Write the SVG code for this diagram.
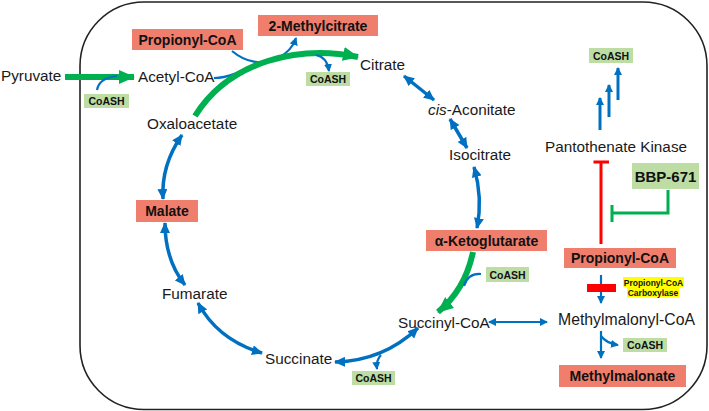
<svg xmlns="http://www.w3.org/2000/svg" width="709" height="411" viewBox="0 0 709 411">
<style>
.t{font-family:"Liberation Sans",Arial,sans-serif;font-size:15.3px;fill:#1a1a1a}
.b{font-family:"Liberation Sans",Arial,sans-serif;font-size:14px;font-weight:bold;fill:#111;text-anchor:middle}
.s{font-family:"Liberation Sans",Arial,sans-serif;font-size:10.5px;font-weight:bold;fill:#111;text-anchor:middle}
.y{font-family:"Liberation Sans",Arial,sans-serif;font-size:8.5px;font-weight:bold;fill:#111;text-anchor:middle}
.red{fill:#F07E6C}
.lg{fill:#BDDDA5}
.bl{fill:none;stroke:#0070C0;stroke-width:3.5}
.bs{fill:none;stroke:#0070C0;stroke-width:2.2}
.gr{fill:none;stroke:#00B050;stroke-width:6}
.inh{fill:none;stroke:#FF0000;stroke-width:3}
.ing{fill:none;stroke:#00B050;stroke-width:3}
</style>
<defs>
<marker id="hb" viewBox="0 0 11 10" refX="10" refY="5" markerWidth="11" markerHeight="10" markerUnits="userSpaceOnUse" orient="auto-start-reverse"><path d="M0,0 L11,5 L0,10 z" fill="#0070C0"/></marker>
<marker id="hs" viewBox="0 0 8 8" refX="7" refY="4" markerWidth="8" markerHeight="8" markerUnits="userSpaceOnUse" orient="auto-start-reverse"><path d="M0,0 L8,4 L0,8 z" fill="#0070C0"/></marker>
<marker id="hg" viewBox="0 0 16 14" refX="15" refY="7" markerWidth="16" markerHeight="14" markerUnits="userSpaceOnUse" orient="auto"><path d="M0,0 L16,7 L0,14 z" fill="#00B050"/></marker>
</defs>
<rect width="709" height="411" fill="#fff"/>
<rect x="80" y="2" width="627" height="407.5" rx="64" ry="64" fill="none" stroke="#222" stroke-width="1.6"/>

<g id="connectors">
  <path class="gr" d="M65,77 L134,77" marker-end="url(#hg)"/>
  <path class="bs" d="M97,90 Q99,78 117,76"/>
  <path class="bs" d="M232,51 C245,62 262,66 278,58 C288,53 293,47 296,38" marker-end="url(#hs)"/>
  <path class="bs" d="M214,78 C228,78 240,72 258,63"/>
  <path class="gr" d="M195,116 C230,60 300,45 358,57" marker-end="url(#hg)"/>
  <path class="bs" d="M316,55 Q327,57 329,71" marker-end="url(#hs)"/>
  <path class="bl" d="M404,76 L434,100" marker-start="url(#hb)" marker-end="url(#hb)"/>
  <path class="bl" d="M450,119 L467,148" marker-start="url(#hb)" marker-end="url(#hb)"/>
  <path class="bl" d="M474,167 Q483,198 477,228" marker-start="url(#hb)" marker-end="url(#hb)"/>
  <path class="gr" d="M473,252 Q465,290 438,312" marker-end="url(#hg)"/>
  <path class="bs" d="M481,274 Q468,273 464,286"/>
  <path class="bs" d="M489,322 L547,322" marker-start="url(#hs)" marker-end="url(#hs)"/>
  <path class="bl" d="M335,362 Q383,361 418,328" marker-start="url(#hb)" marker-end="url(#hb)"/>
  <path class="bs" d="M381,355 Q376,360 377,369" marker-end="url(#hs)"/>
  <path class="bl" d="M198,303 Q218,340 262,353" marker-start="url(#hb)" marker-end="url(#hb)"/>
  <path class="bl" d="M165,223 Q165,260 185,285" marker-start="url(#hb)" marker-end="url(#hb)"/>
  <path class="bl" d="M182,135 Q161,165 163,199" marker-start="url(#hb)" marker-end="url(#hb)"/>
  <path class="bl" style="stroke-width:3" d="M600,130 L600,98" marker-end="url(#hs)"/>
  <path class="bl" style="stroke-width:3" d="M609,117 L609,85" marker-end="url(#hs)"/>
  <path class="bl" style="stroke-width:3" d="M618,100 L618,68" marker-end="url(#hs)"/>
  <path class="inh" d="M601,244 L601,162 M593.5,162 L609,162"/>
  <path class="ing" d="M668,190 L668,213 L612,213 M612,205 L612,222"/>
  <path class="bs" d="M601,275 L601,303" marker-end="url(#hs)"/>
  <rect x="587" y="284" width="29" height="8" fill="#FF0000"/>
  <path class="bs" d="M601,331 L601,358" marker-end="url(#hs)"/>
  <path class="bs" d="M601,336 Q606,343 618,345" marker-end="url(#hs)"/>
</g>

<g id="pyruvate"><text class="t" x="1" y="81">Pyruvate</text></g>
<g id="acetyl-coa"><text class="t" x="138" y="82">Acetyl-CoA</text></g>
<g id="coash-1"><rect class="lg" x="84" y="94" width="45" height="14"/><text class="s" x="106.5" y="105">CoASH</text></g>
<g id="propionyl-coa-1"><rect class="red" x="132" y="29" width="111" height="21"/><text class="b" x="187.5" y="44.5">Propionyl-CoA</text></g>
<g id="methylcitrate"><rect class="red" x="258" y="15" width="120" height="21"/><text class="b" x="318" y="30.5">2-Methylcitrate</text></g>
<g id="coash-2"><rect class="lg" x="306" y="72" width="44" height="14"/><text class="s" x="328" y="83">CoASH</text></g>
<g id="citrate"><text class="t" x="360" y="70">Citrate</text></g>
<g id="cis-aconitate"><text class="t" x="428" y="115"><tspan font-style="italic">cis</tspan>-Aconitate</text></g>
<g id="isocitrate"><text class="t" x="449" y="160">Isocitrate</text></g>
<g id="ketoglutarate"><rect class="red" x="426" y="230" width="121" height="21"/><text class="b" x="486.5" y="245.5">α-Ketoglutarate</text></g>
<g id="coash-3"><rect class="lg" x="486" y="267" width="43" height="15"/><text class="s" x="507.5" y="278.5">CoASH</text></g>
<g id="succinyl-coa"><text class="t" x="398" y="328">Succinyl-CoA</text></g>
<g id="coash-4"><rect class="lg" x="352" y="371" width="43" height="14"/><text class="s" x="373.5" y="382">CoASH</text></g>
<g id="succinate"><text class="t" x="265" y="364">Succinate</text></g>
<g id="fumarate"><text class="t" x="162" y="299">Fumarate</text></g>
<g id="malate"><rect class="red" x="136" y="200" width="62" height="22"/><text class="b" x="167" y="216">Malate</text></g>
<g id="oxaloacetate"><text class="t" x="147" y="129">Oxaloacetate</text></g>
<g id="coash-5"><rect class="lg" x="589" y="48" width="44" height="15"/><text class="s" x="611" y="59.5">CoASH</text></g>
<g id="pantothenate-kinase"><text class="t" x="545" y="152">Pantothenate Kinase</text></g>
<g id="bbp-671"><rect class="lg" x="632" y="163" width="67" height="26"/><text class="b" x="665.5" y="181.5" style="font-size:15px">BBP-671</text></g>
<g id="propionyl-coa-2"><rect class="red" x="564" y="248" width="112" height="20"/><text class="b" x="620" y="263">Propionyl-CoA</text></g>
<g id="carboxylase"><rect x="623" y="277" width="61" height="10" fill="#FFFF00"/><rect x="627" y="287" width="52" height="10.5" fill="#FFFF00"/><text class="y" x="653.5" y="285.5">Propionyl-CoA</text><text class="y" x="653" y="295.5">Carboxylase</text></g>
<g id="methylmalonyl-coa"><text class="t" x="558" y="325" style="font-size:15.8px">Methylmalonyl-CoA</text></g>
<g id="coash-6"><rect class="lg" x="623" y="338" width="44" height="14"/><text class="s" x="645" y="349">CoASH</text></g>
<g id="methylmalonate"><rect class="red" x="559" y="365" width="127" height="22"/><text class="b" x="622.5" y="381">Methylmalonate</text></g>
</svg>
